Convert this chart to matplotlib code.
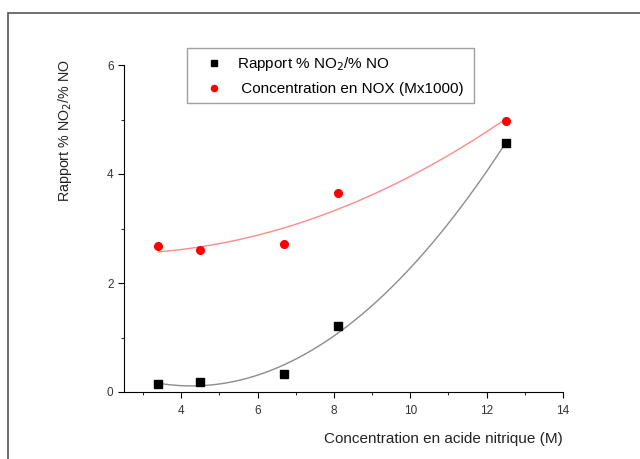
import matplotlib
matplotlib.use("Agg")
from matplotlib import pyplot as plt
from matplotlib.patches import Rectangle
import numpy as np

plt.rcParams['font.family'] = ['Liberation Sans', 'DejaVu Sans']

acid = [3.4, 4.5, 6.7, 8.1, 12.5]  # concentration en acide nitrique (M)
ratio = [0.15, 0.18, 0.33, 1.21, 4.56]  # rapport % NO2 / % NO
nox = [2.67, 2.60, 2.72, 3.65, 4.97]  # concentration en NOX (Mx1000)

fig = plt.figure(figsize=(6.4, 4.59), dpi=100)
ax = fig.add_axes([124/640, 1-392/459, (563-124)/640, (392-65)/459])

# frame around the whole picture
fig.patches.append(Rectangle((8/640, -0.05), 1.0, 1-13/459+0.05, transform=fig.transFigure,
                             fill=False, edgecolor='#555555', linewidth=1.2))

# quadratic fits
xs = np.linspace(min(acid), max(acid), 200)
ax.plot(xs, np.polyval(np.polyfit(acid, ratio, 2), xs), color='#8c8c8c', linewidth=1)
ax.plot(xs, np.polyval(np.polyfit(acid, nox, 2), xs), color='#ff8a8a', linewidth=1)

ax.plot(acid, ratio, 's', color='black', markersize=5.5, label='Rapport % NO$_2$/% NO')
ax.plot(acid, nox, 'o', color='red', markersize=5.5, label=' Concentration en NOX (Mx1000)')

ax.set_xlim(2.5, 14)
ax.set_ylim(0, 6)
ax.set_xticks([4, 6, 8, 10, 12, 14])
ax.set_xticks([3, 5, 7, 9, 11, 13], minor=True)
ax.set_yticks([0, 2, 4, 6])
ax.set_yticks([1, 3, 5], minor=True)
ax.tick_params(which='major', direction='out', length=4, labelsize=8.5, labelcolor='#333333')
ax.tick_params(axis='x', which='major', pad=5)
ax.tick_params(which='minor', direction='out', length=2.5)
for s in ['top', 'right']:
    ax.spines[s].set_visible(False)

ax.set_xlabel('Concentration en acide nitrique (M)', fontsize=11, color='#222222', loc='right', labelpad=11)
ax.set_ylabel('Rapport % NO$_2$/% NO', fontsize=10.3, color='#222222', va='center')
ax.yaxis.set_label_coords((65-124)/439, (392-131)/327)

leg = ax.legend(loc='upper left', bbox_to_anchor=((187-124)/439, (392-48)/327), borderaxespad=0,
                fontsize=11, frameon=True, fancybox=False, edgecolor='#888888',
                handletextpad=0.2, borderpad=0.45, labelspacing=0.62, handlelength=2.6,
                markerscale=0.8)
leg.get_frame().set_linewidth(1)
leg.get_texts()[1].set_text(' Concentration en NOX (Mx1000) ')

fig.savefig('out.png', dpi=100)
